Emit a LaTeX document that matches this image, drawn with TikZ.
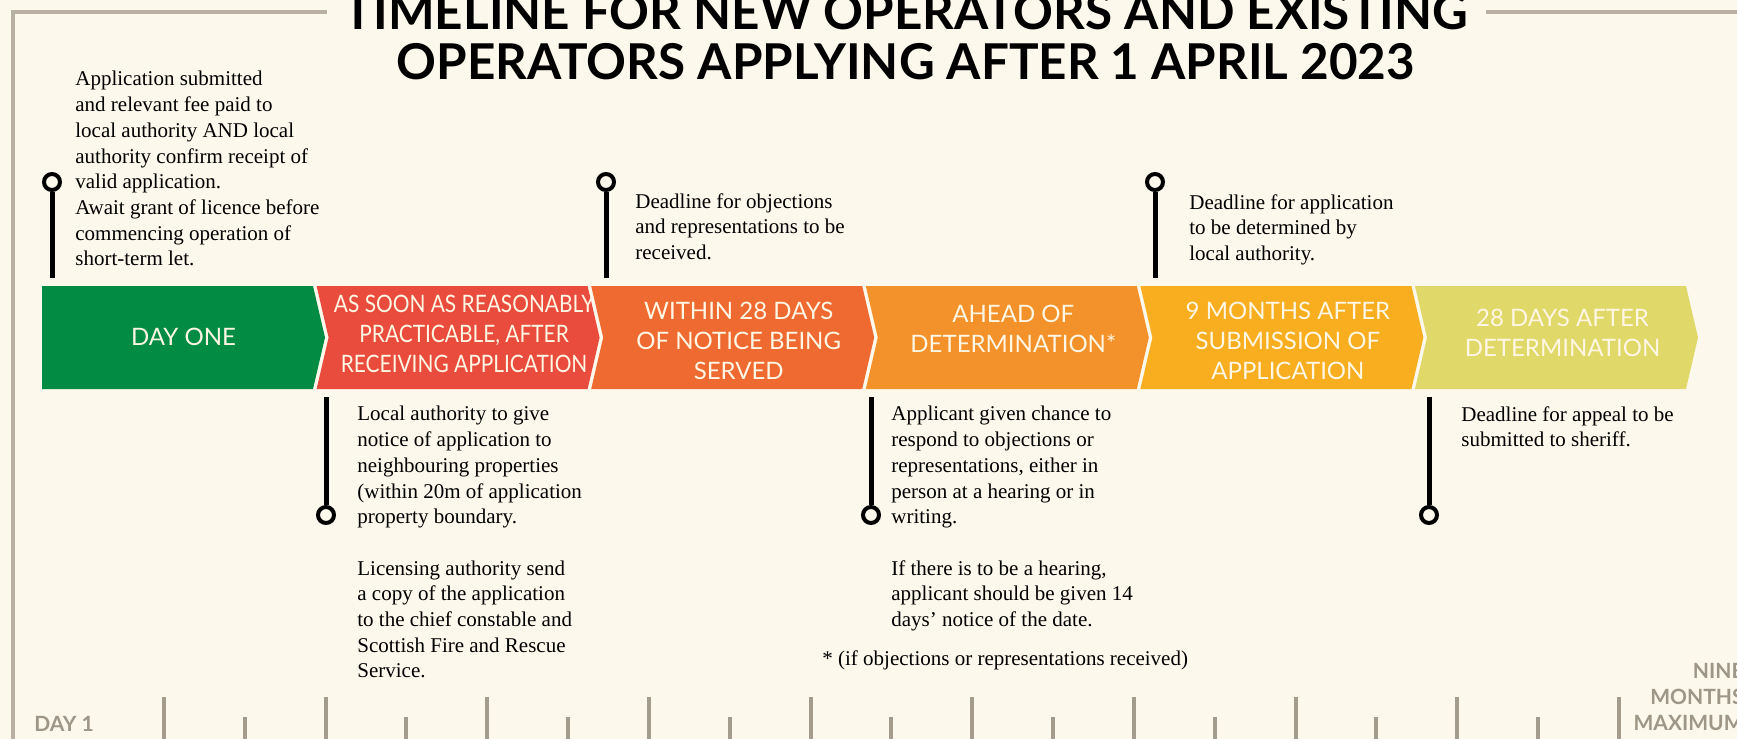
\documentclass[tikz,border=0pt]{standalone}
\usepackage{fontspec}
\setmainfont{Liberation Serif}
\newfontfamily\chevfont{Lato}
\newfontfamily\chevnarrow{Lato}[FakeStretch=0.87]
\usetikzlibrary{positioning}
\definecolor{bg}{HTML}{FDF8EC}
\definecolor{framegray}{HTML}{B8B1A3}
\definecolor{tickgray}{HTML}{A39C8C}
\definecolor{labelgray}{HTML}{9E9686}
\definecolor{chevtext}{HTML}{FFF6E4}
\definecolor{dayone}{HTML}{028C43}
\definecolor{asap}{HTML}{E94C3D}
\definecolor{within}{HTML}{EE6A31}
\definecolor{ahead}{HTML}{F3912A}
\definecolor{ninemonths}{HTML}{F8AE1F}
\definecolor{appeal}{HTML}{E1D86A}
\tikzset{
    %Define style for the chevron labels
    stagetext/.style={
           font=\chevfont\fontsize{12}{15}\selectfont,
           text=chevtext,
           align=center,
           inner sep=0pt},
    wide/.style={},
    narrow/.style={font=\chevnarrow\fontsize{12}{15}\selectfont},
    %Define style for the notes
    note/.style={
           font=\fontsize{10.5}{12.85}\selectfont,
           align=left,
           anchor=north west,
           inner sep=0pt},
    % pins
    stem/.style={
           line width=2.5pt,
           black},
    knob/.style={
           circle,
           draw=black,
           line width=2pt,
           fill=bg,
           minimum size=8pt,
           inner sep=0pt},
    frame/.style={
           line width=2pt,
           framegray},
    tickmark/.style={
           line width=2pt,
           tickgray},
    scalelabel/.style={
           font=\chevfont\bfseries\fontsize{10.5}{13}\selectfont,
           text=labelgray,
           inner sep=0pt}
}
\begin{document}
\begin{tikzpicture}[x=0.5pt,y=-0.5pt]
\useasboundingbox (0,0) rectangle (1737,739);
\fill[bg] (0,0) rectangle (1737,739);

 %frame and title
\draw[frame] (327,12) -| (13,745);
\draw[frame] (1486,12) -- (1745,12);
\node[font=\chevfont\bfseries\fontsize{24.7}{25}\selectfont, align=center, anchor=base] (title) at (906,79)
    {TIMELINE FOR NEW OPERATORS AND EXISTING\\OPERATORS APPLYING AFTER 1 APRIL 2023};

 %chevrons
\foreach \col/\ty/\sty/\txt [count=\i from 0] in {
    dayone/337/wide/{DAY ONE},
    asap/334/narrow/{AS SOON AS REASONABLY\\PRACTICABLE, AFTER\\RECEIVING APPLICATION},
    within/341/wide/{WITHIN 28 DAYS\\OF NOTICE BEING\\SERVED},
    ahead/329/wide/{AHEAD OF\\DETERMINATION*},
    ninemonths/341/wide/{9 MONTHS AFTER\\SUBMISSION OF\\APPLICATION},
    appeal/333/wide/{28 DAYS AFTER\\DETERMINATION}}{
  \pgfmathsetmacro\L{42+274.6*\i}
  \pgfmathsetmacro\n{ifthenelse(\i==0,0,12)}
  \fill[\col] (\L,286) -- ++(271,0) -- ++(12,51.5) -- ++(-12,51.5) -- (\L,389) -- ++(\n,-51.5) -- cycle;
  \node[stagetext,\sty] (s\i) at (\L+141.5+\n/2,\ty) {\txt};
}

 %pins above
\foreach \x [count=\k] in {52,606,1155}{
  \node[knob] (top\k) at (\x,182) {};
  \coordinate (topend\k) at (\x,278);
  \draw[stem] (top\k) -- (topend\k);
}
 %pins below
\foreach \x [count=\k] in {326,871,1429}{
  \node[knob] (low\k) at (\x,515) {};
  \coordinate (lowend\k) at (\x,397);
  \draw[stem] (lowend\k) -- (low\k);
}

 %notes
\node[note] (submitted) at (75,71) {Application submitted\\and relevant fee paid to\\local authority AND local\\authority confirm receipt of\\valid application.\\Await grant of licence before\\commencing operation of\\short-term let.};
\node[note] (objections) at (635,193) {Deadline for objections\\and representations to be\\received.};
\node[note] (determined) at (1189,194) {Deadline for application\\to be determined by\\local authority.};
\node[note] (notice) at (357,406) {Local authority to give\\notice of application to\\neighbouring properties\\(within 20m of application\\property boundary.\\[12.85pt]Licensing authority send\\a copy of the application\\to the chief constable and\\Scottish Fire and Rescue\\Service.};
\node[note] (respond) at (891,406) {Applicant given chance to\\respond to objections or\\representations, either in\\person at a hearing or in\\writing.\\[12.85pt]If there is to be a hearing,\\applicant should be given 14\\days’ notice of the date.};
\node[note] (sheriff) at (1461,406) {Deadline for appeal to be\\submitted to sheriff.};
\node[note] (footnote) at (822,650) {* (if objections or representations received)};

 %scale at the bottom
\foreach \i in {0,...,18}{
  \pgfmathsetmacro\tx{164+80.83*\i}
  \pgfmathsetmacro\ty{ifthenelse(mod(\i,2)==0,697,717)}
  \draw[tickmark] (\tx,\ty) -- (\tx,745);
}
\node[scalelabel, anchor=base west] (dayonelabel) at (34,731) {DAY 1};
\node[scalelabel, align=right, anchor=north east] (ninelabel) at (1744,663) {NINE\\MONTHS\\MAXIMUM};
\end{tikzpicture}
\end{document}
